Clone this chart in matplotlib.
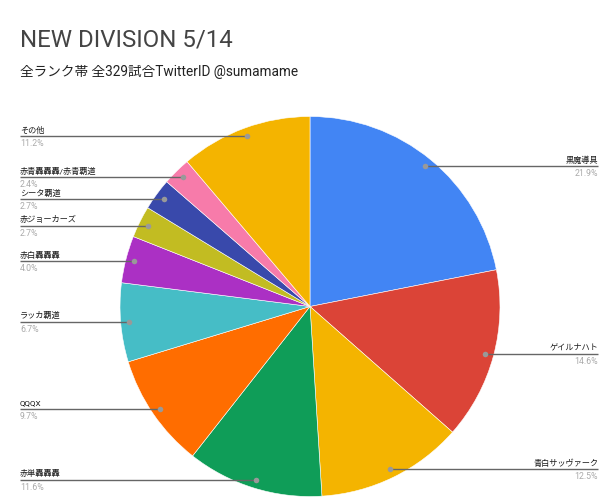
import numpy as np
import matplotlib
matplotlib.use("Agg")
import matplotlib.pyplot as plt

plt.rcParams['font.family'] = ['Roboto', 'Noto Sans CJK JP', 'DejaVu Sans']

title = "NEW DIVISION 5/14"
subtitle = "全ランク帯 全329試合TwitterID @sumamame"
categories = ["黒魔導具", "ゲイルナハト", "青白サッヴァーク", "赤単轟轟轟", "QQQX",
              "ラッカ覇道", "赤白轟轟轟", "赤ジョーカーズ", "シータ覇道",
              "赤青轟轟轟/赤青覇道", "その他"]
percents = [21.9, 14.6, 12.5, 11.6, 9.7, 6.7, 4.0, 2.7, 2.7, 2.4, 11.2]
colors = ["#4285F4", "#DB4437", "#F4B400", "#0F9D58", "#FF6D00", "#46BDC6",
          "#AB30C4", "#C2BC22", "#3949AB", "#F77BAA", "#F4B400"]

W, H = 604, 501
fig = plt.figure(figsize=(W / 100, H / 100), dpi=100)
ax = fig.add_axes([0, 0, 1, 1])

def Y(py):
    return H - py

cx, cy, r = 310, Y(306.5), 190
ax.pie(percents, colors=colors, startangle=90, counterclock=False,
       center=(cx, cy), radius=r, frame=True,
       wedgeprops=dict(edgecolor='white', linewidth=0.4))
ax.set_xlim(0, W)
ax.set_ylim(0, H)
ax.axis('off')

vals = np.array(percents)
cum = np.cumsum(vals) - vals / 2
frac = cum / vals.sum()
for name, p, f in zip(categories, percents, frac):
    th = np.deg2rad(90 - 360 * f)
    dx = cx + 0.955 * r * np.cos(th)
    dy = cy + 0.955 * r * np.sin(th)
    right = np.cos(th) > 0
    if right:
        xe, ha = 598, 'right'
    else:
        xe, ha = 20, 'left'
    ax.plot([dx, xe], [dy, dy], color='#666666', lw=1, zorder=3, solid_capstyle='butt')
    ax.plot([dx], [dy], 'o', ms=4, color='#999999', mec='none', zorder=4)
    ax.text(xe, dy + 2.5, name, ha=ha, va='bottom', fontsize=5.9, color='#1a1a1a')
    ax.text(xe, dy - 3, f"{p:.1f}%", ha=ha, va='top', fontsize=6.3, color='#aaaaaa')

fig.text(20 / W, 1 - 40 / H, title, fontsize=17.3, color='#444444', va='center', ha='left')
fig.text(20 / W, 1 - 72 / H, subtitle, fontsize=9.8, color='#222222', va='center', ha='left')

fig.savefig("out.png", dpi=100, facecolor='white')
